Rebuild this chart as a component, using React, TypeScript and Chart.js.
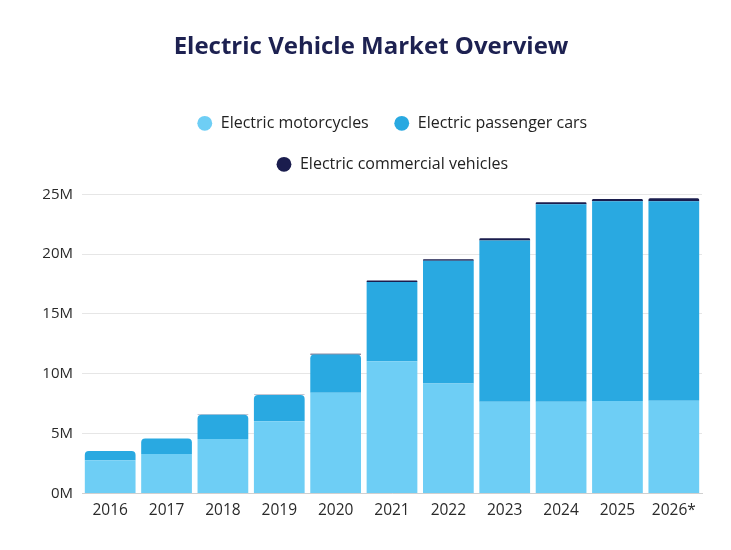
import React, { useEffect, useRef } from "react";
import { Chart, registerables } from "chart.js";

Chart.register(...registerables);

const categories = ["2016", "2017", "2018", "2019", "2020", "2021", "2022", "2023", "2024", "2025", "2026*"];
const motorcycles = [2.78, 3.3, 4.55, 6.03, 8.42, 11.05, 9.19, 7.67, 7.67, 7.72, 7.74];
const passengerCars = [0.77, 1.28, 2.03, 2.19, 3.2, 6.63, 10.25, 13.47, 16.49, 16.69, 16.67];
const commercial = [0, 0.01, 0.02, 0.03, 0.05, 0.12, 0.14, 0.19, 0.17, 0.2, 0.26];
const yTicks = [0, 5, 10, 15, 20, 25];

const FONT = "'Open Sans', 'Noto Sans', sans-serif";

const legendGap = {
  id: "legendGap",
  beforeUpdate(chart: any) {
    const lg = chart.legend;
    if (lg && !lg._gapPatched) {
      const orig = lg.fit;
      lg.fit = function () {
        orig.call(this);
        this.height += 12;
      };
      lg._gapPatched = true;
    }
  },
};

const topRadius = { topLeft: 4, topRight: 4, bottomLeft: 0, bottomRight: 0 };

export default function App() {
  const ref = useRef<HTMLCanvasElement | null>(null);

  useEffect(() => {
    document.body.style.margin = "0";
    if (!ref.current) return;
    const chart = new Chart(ref.current, {
      type: "bar",
      data: {
        labels: categories,
        datasets: [
          {
            label: "Electric motorcycles",
            data: motorcycles,
            backgroundColor: "#6ECEF5",
            borderRadius: 0,
          },
          {
            label: "Electric passenger cars",
            data: passengerCars,
            backgroundColor: "#29A9E1",
            borderRadius: (ctx: any) =>
              commercial[ctx.dataIndex] < 0.1 ? topRadius : 0,
          },
          {
            label: "Electric commercial vehicles",
            data: commercial,
            backgroundColor: "#1A1D4E",
            borderRadius: topRadius,
          },
        ],
      },
      options: {
        responsive: false,
        animation: false,
        layout: { padding: { left: 40, right: 29, top: 0, bottom: 22 } },
        datasets: {
          bar: { categoryPercentage: 1, barPercentage: 0.9 },
        },
        scales: {
          x: {
            stacked: true,
            grid: { display: false, drawTicks: false },
            border: { display: true, color: "#d0d0d0" },
            ticks: {
              padding: 8,
              color: "#2a2a2a",
              font: { family: FONT, size: 15.5 },
            },
          },
          y: {
            stacked: true,
            min: 0,
            max: 25,
            afterBuildTicks: (scale: any) => {
              scale.ticks = yTicks.map((v) => ({ value: v }));
            },
            afterFit: (scale: any) => {
              scale.width = 42;
            },
            grid: { color: "#e6e6e6", drawTicks: false },
            border: { display: false },
            ticks: {
              padding: 9,
              color: "#2a2a2a",
              font: { family: FONT, size: 15 },
              callback: (v: any) => `${v}M`,
            },
          },
        },
        plugins: {
          title: {
            display: true,
            text: "Electric Vehicle Market Overview",
            color: "#1D2151",
            font: { family: FONT, size: 24, weight: "bold" },
            padding: { top: 32.5, bottom: 29 },
          },
          legend: {
            display: true,
            position: "top",
            fullSize: false,
            labels: {
              usePointStyle: true,
              pointStyle: "circle",
              boxHeight: 10.5,
              padding: 25,
              color: "#222222",
              font: { family: FONT, size: 16 },
            },
          },
          tooltip: { enabled: false },
        },
      },
      plugins: [legendGap],
    } as any);
    return () => chart.destroy();
  }, []);

  return (
    <div style={{ width: 731, height: 550 }}>
      <canvas ref={ref} width={731} height={550} style={{ display: "block" }} />
    </div>
  );
}
